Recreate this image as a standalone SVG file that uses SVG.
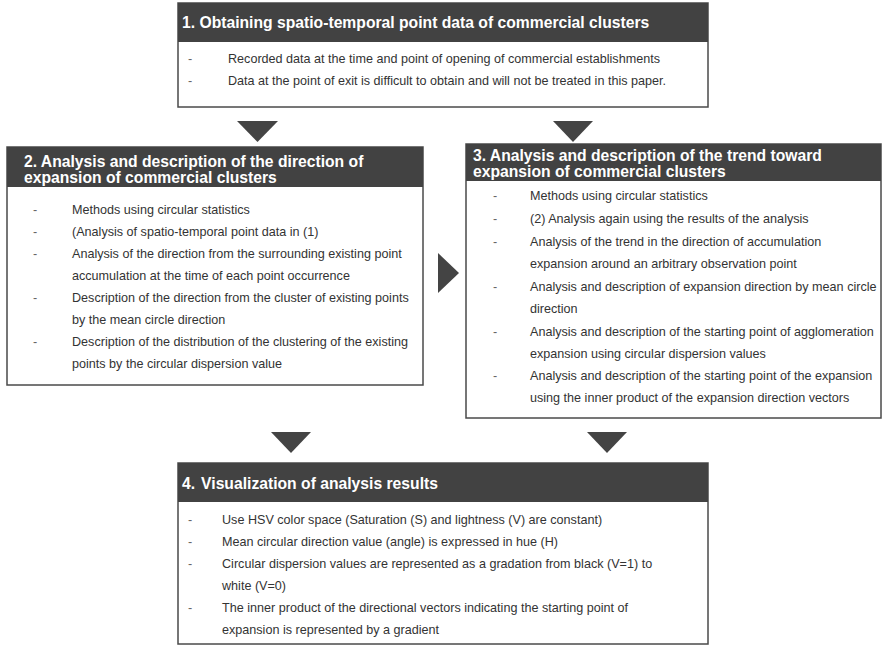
<svg xmlns="http://www.w3.org/2000/svg" width="883" height="645" viewBox="0 0 883 645">
<style>
.box{fill:#ffffff;stroke:#4a4a4a;stroke-width:1.5}
.hdr{fill:#424242}
.title{font-family:"Liberation Sans",Arial,sans-serif;font-size:15.7px;font-weight:bold;fill:#ffffff}
.body{font-family:"Liberation Sans",Arial,sans-serif;font-size:12.6px;fill:#333333}
.dash{font-family:"Liberation Sans",Arial,sans-serif;font-size:12.6px;fill:#666666}
.arrow{fill:#444444}
</style>
<rect width="883" height="645" fill="#ffffff"/>
<g id="node1">
<rect class="box" x="178" y="3" width="530" height="104"/>
<rect class="hdr" x="178" y="3" width="530" height="39"/>
<text class="title" x="182" y="28">1. Obtaining spatio-temporal point data of commercial clusters</text>
<text class="dash" x="188" y="63">-</text>
<text class="body" x="228" y="63">Recorded data at the time and point of opening of commercial establishments</text>
<text class="dash" x="188" y="85">-</text>
<text class="body" x="228" y="85">Data at the point of exit is difficult to obtain and will not be treated in this paper.</text>
</g>
<g id="node2">
<rect class="box" x="7" y="147" width="416" height="238"/>
<rect class="hdr" x="7" y="147" width="416" height="40"/>
<text class="title" x="24" y="167">2. Analysis and description of the direction of</text>
<text class="title" x="24" y="183">expansion of commercial clusters</text>
<text class="dash" x="33" y="214">-</text>
<text class="body" x="72" y="214">Methods using circular statistics</text>
<text class="dash" x="33" y="236">-</text>
<text class="body" x="72" y="236">(Analysis of spatio-temporal point data in (1)</text>
<text class="dash" x="33" y="258">-</text>
<text class="body" x="72" y="258">Analysis of the direction from the surrounding existing point</text>
<text class="body" x="72" y="280">accumulation at the time of each point occurrence</text>
<text class="dash" x="33" y="302">-</text>
<text class="body" x="72" y="302">Description of the direction from the cluster of existing points</text>
<text class="body" x="72" y="324">by the mean circle direction</text>
<text class="dash" x="33" y="346">-</text>
<text class="body" x="72" y="346">Description of the distribution of the clustering of the existing</text>
<text class="body" x="72" y="368">points by the circular dispersion value</text>
</g>
<g id="node3">
<rect class="box" x="466" y="144" width="415" height="274"/>
<rect class="hdr" x="466" y="144" width="415" height="37"/>
<text class="title" x="473" y="161">3. Analysis and description of the trend toward</text>
<text class="title" x="473" y="177">expansion of commercial clusters</text>
<text class="dash" x="493" y="200">-</text>
<text class="body" x="530" y="200">Methods using circular statistics</text>
<text class="dash" x="493" y="223">-</text>
<text class="body" x="530" y="223">(2) Analysis again using the results of the analysis</text>
<text class="dash" x="493" y="246">-</text>
<text class="body" x="530" y="246">Analysis of the trend in the direction of accumulation</text>
<text class="body" x="530" y="268">expansion around an arbitrary observation point</text>
<text class="dash" x="493" y="291">-</text>
<text class="body" x="530" y="291">Analysis and description of expansion direction by mean circle</text>
<text class="body" x="530" y="313">direction</text>
<text class="dash" x="493" y="336">-</text>
<text class="body" x="530" y="336">Analysis and description of the starting point of agglomeration</text>
<text class="body" x="530" y="358">expansion using circular dispersion values</text>
<text class="dash" x="493" y="380">-</text>
<text class="body" x="530" y="380">Analysis and description of the starting point of the expansion</text>
<text class="body" x="530" y="402">using the inner product of the expansion direction vectors</text>
</g>
<g id="node4">
<rect class="box" x="178" y="463" width="530" height="181"/>
<rect class="hdr" x="178" y="463" width="530" height="39"/>
<text class="title" x="182" y="489">4.<tspan dx="6">Visualization of analysis results</tspan></text>
<text class="dash" x="188" y="524">-</text>
<text class="body" x="222" y="524">Use HSV color space (Saturation (S) and lightness (V) are constant)</text>
<text class="dash" x="188" y="546">-</text>
<text class="body" x="222" y="546">Mean circular direction value (angle) is expressed in hue (H)</text>
<text class="dash" x="188" y="568">-</text>
<text class="body" x="222" y="568">Circular dispersion values are represented as a gradation from black (V=1) to</text>
<text class="body" x="222" y="590">white (V=0)</text>
<text class="dash" x="188" y="612">-</text>
<text class="body" x="222" y="612">The inner product of the directional vectors indicating the starting point of</text>
<text class="body" x="222" y="634">expansion is represented by a gradient</text>
</g>
<g id="connectors">
<polygon class="arrow" points="237,121 278,121 257.5,142"/>
<polygon class="arrow" points="553,121 593,121 573,142"/>
<polygon class="arrow" points="438,253 459,273 438,293"/>
<polygon class="arrow" points="271,432 311,432 291,453"/>
<polygon class="arrow" points="587,432 627,432 607,453"/>
</g>
</svg>
